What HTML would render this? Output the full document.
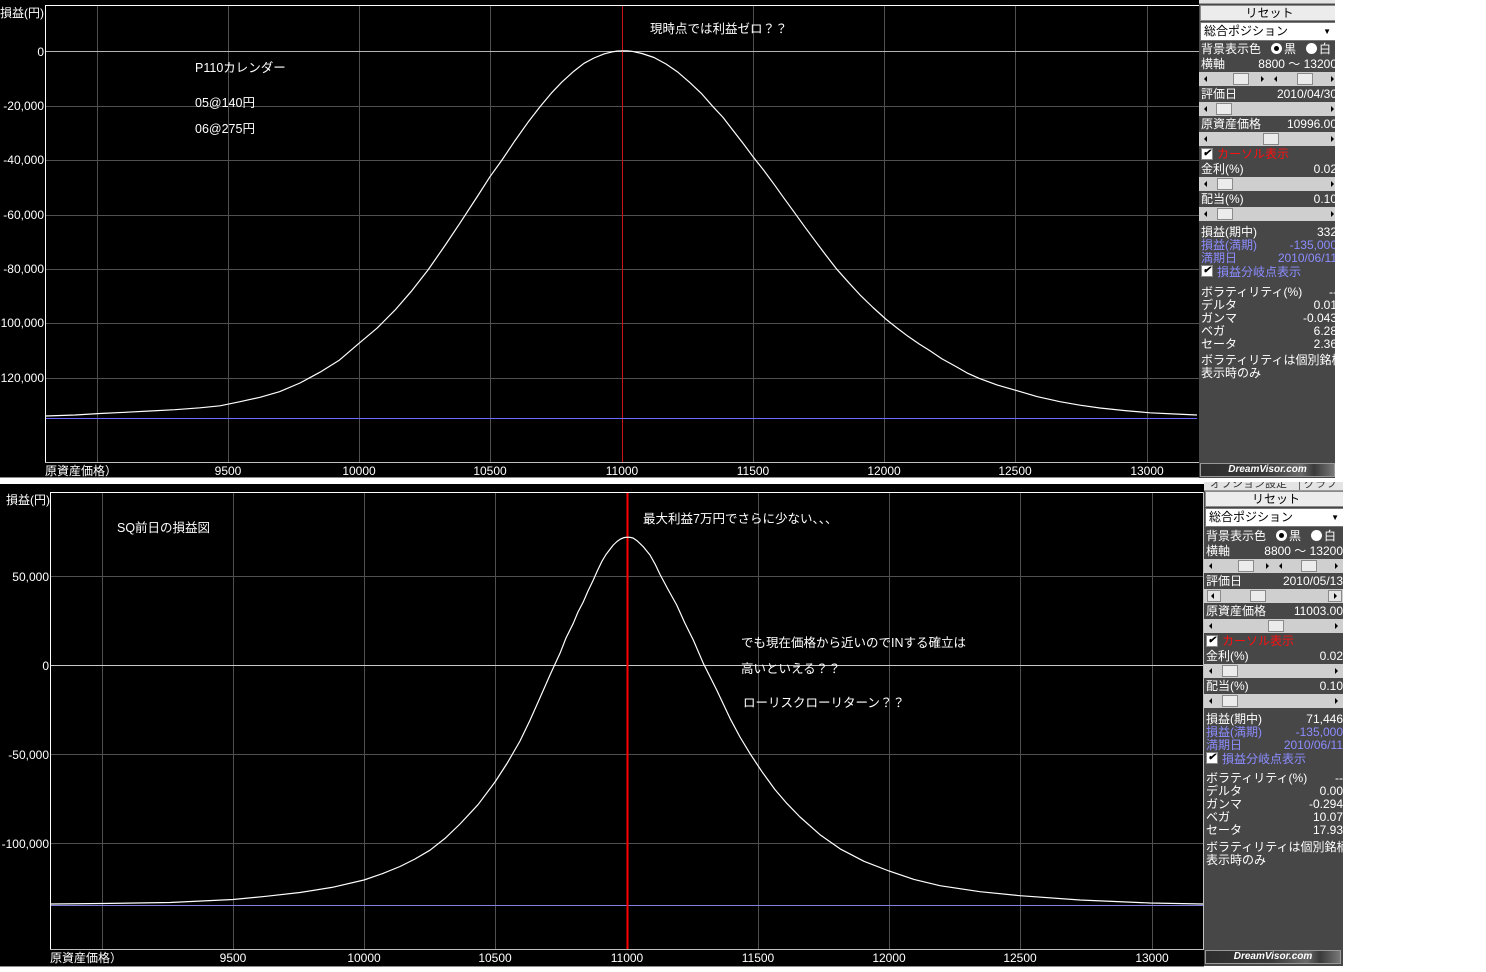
<!DOCTYPE html>
<html><head><meta charset="utf-8">
<style>
*{margin:0;padding:0;box-sizing:border-box}
html,body{width:1486px;height:972px;background:#fff;overflow:hidden}
#root{position:relative;width:1486px;height:972px;background:#fff;overflow:hidden}
.p{position:absolute;background:#474747;overflow:hidden;font:12px "Liberation Sans","Noto Sans CJK JP",sans-serif;color:#fff}
.r{position:absolute;left:0;right:0;height:15px;line-height:15px;white-space:nowrap}
.l{position:absolute;left:2px;top:0}
.v{position:absolute;right:-2px;top:0}
.pu{color:#8c8cff}
.sb{position:absolute;left:0;right:0;height:14px;background:#cfcfcf}
.th{position:absolute;top:1px;width:16px;height:12px;background:#ececec;border:1px solid #8a8a8a}
.tl{position:absolute;top:4px;width:0;height:0;border-top:3px solid transparent;border-bottom:3px solid transparent;border-right:3px solid #000}
.tr{position:absolute;top:4px;width:0;height:0;border-top:3px solid transparent;border-bottom:3px solid transparent;border-left:3px solid #000}
.bx{position:absolute;top:1px;width:14px;height:12px;background:#e4e4e4;border:1px solid #8a8a8a}
.btn{position:absolute;left:1px;right:-4px;height:16px;background:#ececec;border:1px solid #8a8a8a;color:#000;text-align:center;line-height:14px}
.dd{position:absolute;left:1px;right:-4px;height:19px;background:#fff;border:1px solid #777;color:#000;line-height:17px;padding-left:3px}
.dd b{position:absolute;right:7px;top:0;font-size:8px;font-weight:normal}
.ck{position:absolute;left:0;top:1px;width:12px;height:12px;background:#fff;border:1px solid #888;color:#000;font-size:10px;line-height:10px;text-align:center;font-weight:bold}
.ckt{position:absolute;left:16px;top:0}
.rd{display:inline-block;width:11px;height:11px;border-radius:50%;background:#fff;vertical-align:-1px;position:relative;margin-right:2px}
.rd.on:after{content:"";position:absolute;left:3px;top:3px;width:5px;height:5px;border-radius:50%;background:#000}
.ban{position:absolute;left:1px;right:0;height:14px;background:linear-gradient(90deg,#2e2e2e 0%,#3a3a3a 50%,#6a6a6a 75%,#3a3a3a 85%,#777 100%);border:1px solid #999;color:#fff;font:italic bold 10px "Liberation Sans",sans-serif;line-height:12px;text-align:center}
.tab{position:absolute;left:0;right:0;top:0;background:#e4e4e4;overflow:hidden;color:#333}
</style></head><body><div id="root">
<svg width="1486" height="972" style="position:absolute;left:0;top:0" font-family='"Liberation Sans","Noto Sans CJK JP",sans-serif' font-size="12">
<!-- top chart -->
<rect x="0" y="0" width="1199" height="477" fill="#000"/>
<rect x="0" y="477" width="1199" height="1" fill="#8a8a8a"/>
<g stroke="#505050" stroke-width="1" shape-rendering="crispEdges" fill="none">
<path d="M45 106.5H1199M45 160.5H1199M45 215.5H1199M45 269.5H1199M45 323.5H1199M45 378.5H1199"/>
<path d="M97.5 5V462M228.5 5V462M359.5 5V462M490.5 5V462M753.5 5V462M884.5 5V462M1015.5 5V462M1147.5 5V462"/>
</g>
<g shape-rendering="crispEdges" fill="none">
<path d="M45 51.5H1199" stroke="#b4b4b4"/>
<path d="M622.5 6V462" stroke="#c81414"/>
<path d="M45 5.5H1199" stroke="#fff"/>
<path d="M45.5 5V462" stroke="#fff"/>
<path d="M45 462.5H1199" stroke="#c0c0c0"/>
<path d="M46 418.5H1197" stroke="#6a6aff"/>
</g>
<polyline fill="none" stroke="#fff" stroke-width="1.2" stroke-linejoin="round" points="46,416 75,415 100,413.5 125,412.3 150,411 175,409.7 200,407.8 220,405.8 240,401.7 260,397.3 279.5,391.7 300,383 320,372.2 339,360.4 359,343.3 377,328.2 395,310.1 411,291.7 428,270 445,245.5 460,223.1 477,197 490,176.7 502,160 515,140.6 528,122.3 540,106.7 552,92.4 562,81.9 574,71.1 584,63.3 594,58 604,53.9 612,51.9 617,51.1 622,50.8 627,50.9 632,51.3 642,53.5 654,57.5 666,64 678,72.3 690,82.7 702,94.1 713,106.7 723,117.4 733,130.4 743,143.3 753,156.7 764,170.6 774,184.2 784,198.2 795,213.3 805,227.2 815,240.7 825,254 836,268.3 848,281.8 860,294.9 873,307.5 885.7,319 897,328 908,336.3 919,343.9 929.6,350.5 942,358.9 955,366 967,372.9 979,378.3 997,384.9 1015.7,390.3 1037,396.6 1060,401.7 1080,405.2 1100,408 1125,410.6 1150,412.8 1175,414 1197,415"/>
<g fill="#fff">
<text x="0" y="17">損益(円)</text>
<g text-anchor="end">
<text x="44" y="56">0</text>
<text x="44" y="110">-20,000</text>
<text x="44" y="164">-40,000</text>
<text x="44" y="219">-60,000</text>
<text x="44" y="273">-80,000</text>
<text x="44" y="327">-100,000</text>
<text x="44" y="382">-120,000</text>
</g>
<text x="45" y="475">原資産価格）</text>
<g text-anchor="middle">
<text x="228" y="475">9500</text>
<text x="359" y="475">10000</text>
<text x="490" y="475">10500</text>
<text x="622" y="475">11000</text>
<text x="753" y="475">11500</text>
<text x="884" y="475">12000</text>
<text x="1015" y="475">12500</text>
<text x="1147" y="475">13000</text>
</g>
<text x="650" y="33" font-size="12.5">現時点では利益ゼロ？？</text>
<text x="195" y="72" font-size="12.5">P110カレンダー</text>
<text x="195" y="107" font-size="12.5">05@140円</text>
<text x="195" y="133" font-size="12.5">06@275円</text>
</g>

<!-- bottom chart -->
<rect x="0" y="484" width="1204" height="482" fill="#000"/>
<rect x="0" y="966" width="1204" height="1" fill="#8a8a8a"/>
<g stroke="#505050" stroke-width="1" shape-rendering="crispEdges" fill="none">
<path d="M50 576.5H1203M50 754.5H1203M50 843.5H1203"/>
<path d="M102.5 493V949M233.5 493V949M364.5 493V949M495.5 493V949M758.5 493V949M889.5 493V949M1020.5 493V949M1152.5 493V949"/>
</g>
<g shape-rendering="crispEdges" fill="none">
<path d="M50 665.5H1203" stroke="#c8c8c8"/>
<path d="M50 492.5H1204" stroke="#fff"/>
<path d="M50.5 492V949" stroke="#fff"/>
<path d="M50 949.5H1204" stroke="#c0c0c0"/>
<path d="M1203.5 492V950" stroke="#c0c0c0"/>
<path d="M51 905.5H1203" stroke="#8080e0"/>
<path d="M627.5 493V949" stroke="#ff0000" stroke-width="2"/>
</g>
<polyline fill="none" stroke="#fff" stroke-width="1.2" stroke-linejoin="round" points="51,904 102,903.5 170,902.5 233,899.5 266,896.3 300,892.5 332,887.4 364,880 382,873.8 400,866.5 415,859 430,850.2 445,838.4 460,824 478,804.7 495,782 507,763.5 520,741 530,720.3 540,697.7 550,675 560,653.3 566,638 573.3,623.3 578,612 583,602.5 588,591 593.3,580 597.5,570.5 601.7,561.7 606,554.5 613.3,545 617,541.5 620,539.3 624,537.6 627,537.2 630,537.3 633,538 637,540.7 643,546.4 650,555 655,563.9 660,574.4 668,589.4 676.7,605 685,623.4 693.3,640 703.3,663.3 716.7,690 730,718.3 740,737 750,753.6 762,771.7 775,789.6 787,803.6 800,817 820,834.7 840,848.8 864,861.3 889,871 914,879.4 940,885.7 980,891.7 1020,895.7 1080,900 1150,903 1203,904"/>
<g fill="#fff">
<text x="6" y="504">損益(円)</text>
<g text-anchor="end">
<text x="49" y="581">50,000</text>
<text x="49" y="670">0</text>
<text x="49" y="759">-50,000</text>
<text x="49" y="848">-100,000</text>
</g>
<text x="50" y="962">原資産価格）</text>
<g text-anchor="middle">
<text x="233" y="962">9500</text>
<text x="364" y="962">10000</text>
<text x="495" y="962">10500</text>
<text x="627" y="962">11000</text>
<text x="758" y="962">11500</text>
<text x="889" y="962">12000</text>
<text x="1020" y="962">12500</text>
<text x="1152" y="962">13000</text>
</g>
<text x="117" y="532" font-size="12.5">SQ前日の損益図</text>
<text x="643" y="523" font-size="12.5">最大利益7万円でさらに少ない、、、</text>
<text x="741" y="647" font-size="12.5">でも現在価格から近いのでINする確立は</text>
<text x="741" y="673" font-size="12.5">高いといえる？？</text>
<text x="743" y="707" font-size="12.5">ローリスクローリターン？？</text>
</g>
</svg>

<!-- right panel 1 -->
<div class="p" style="left:1199px;top:0;width:136px;height:478px">
 <div class="tab" style="height:4px;border-bottom:1px solid #999"></div>
 <div class="btn" style="top:5px">リセット</div>
 <div class="dd" style="top:22px">総合ポジション<b>▼</b></div>
 <div class="r" style="top:42px"><span class="l">背景表示色</span><span style="position:absolute;left:72px"><i class="rd on"></i>黒</span><span style="position:absolute;left:107px"><i class="rd"></i>白</span></div>
 <div class="r" style="top:57px"><span class="l">横軸</span><span class="v">8800 ～ 13200</span></div>
 <div class="sb" style="top:72px"><i class="tl" style="left:5px"></i><i class="th" style="left:34px"></i><i class="tr" style="left:62px"></i><i class="tl" style="left:75px"></i><i class="th" style="left:98px"></i><i class="tr" style="left:132px"></i></div>
 <div class="r" style="top:87px"><span class="l">評価日</span><span class="v">2010/04/30</span></div>
 <div class="sb" style="top:102px"><i class="tl" style="left:5px"></i><i class="th" style="left:17px"></i><i class="tr" style="left:132px"></i></div>
 <div class="r" style="top:117px"><span class="l">原資産価格</span><span class="v">10996.00</span></div>
 <div class="sb" style="top:132px"><i class="tl" style="left:5px"></i><i class="th" style="left:64px"></i><i class="tr" style="left:132px"></i></div>
 <div class="r" style="top:147px"><span class="l" style="width:120px"><i class="ck">✔</i><span class="ckt" style="color:#ff1010">カーソル表示</span></span></div>
 <div class="r" style="top:162px"><span class="l">金利(%)</span><span class="v">0.02</span></div>
 <div class="sb" style="top:177px"><i class="tl" style="left:5px"></i><i class="th" style="left:18px"></i><i class="tr" style="left:132px"></i></div>
 <div class="r" style="top:192px"><span class="l">配当(%)</span><span class="v">0.10</span></div>
 <div class="sb" style="top:207px"><i class="tl" style="left:5px"></i><i class="th" style="left:18px"></i><i class="tr" style="left:132px"></i></div>
 <div class="r" style="top:225px;height:14px;line-height:14px"><span class="l">損益(期中)</span><span class="v">332</span></div>
 <div class="r pu" style="top:239px;height:13px;line-height:13px"><span class="l">損益(満期)</span><span class="v">-135,000</span></div>
 <div class="r pu" style="top:252px;height:13px;line-height:13px"><span class="l">満期日</span><span class="v">2010/06/11</span></div>
 <div class="r pu" style="top:265px;height:14px;line-height:14px"><span class="l" style="width:130px"><i class="ck" style="top:0">✔</i><span class="ckt">損益分岐点表示</span></span></div>
 <div class="r" style="top:286px;height:13px;line-height:13px"><span class="l">ボラティリティ(%)</span><span class="v">--</span></div>
 <div class="r" style="top:299px;height:13px;line-height:13px"><span class="l">デルタ</span><span class="v">0.01</span></div>
 <div class="r" style="top:312px;height:13px;line-height:13px"><span class="l">ガンマ</span><span class="v">-0.043</span></div>
 <div class="r" style="top:325px;height:13px;line-height:13px"><span class="l">ベガ</span><span class="v">6.28</span></div>
 <div class="r" style="top:338px;height:13px;line-height:13px"><span class="l">セータ</span><span class="v">2.36</span></div>
 <div class="r" style="top:354px;height:13px;line-height:13px"><span class="l">ボラティリティは個別銘柄</span></div>
 <div class="r" style="top:367px;height:13px;line-height:13px"><span class="l">表示時のみ</span></div>
 <div class="ban" style="top:463px">DreamVisor.com</div>
</div>

<!-- right panel 2 -->
<div class="p" style="left:1204px;top:482px;width:139px;height:484px">
 <div class="tab" style="height:9px;border-bottom:1px solid #999"><span style="position:absolute;left:6px;top:-7px;font-size:11px">オプション設定</span><span style="position:absolute;left:95px;top:-7px;font-size:11px;border-left:1px solid #666;padding-left:4px">グラフ</span></div>
 <div class="btn" style="top:9px">リセット</div>
 <div class="dd" style="top:26px">総合ポジション<b>▼</b></div>
 <div class="r" style="top:47px"><span class="l">背景表示色</span><span style="position:absolute;left:72px"><i class="rd on"></i>黒</span><span style="position:absolute;left:107px"><i class="rd"></i>白</span></div>
 <div class="r" style="top:62px"><span class="l">横軸</span><span class="v" style="right:0">8800 ～ 13200</span></div>
 <div class="sb" style="top:77px"><i class="tl" style="left:5px"></i><i class="th" style="left:34px"></i><i class="tr" style="left:62px"></i><i class="tl" style="left:75px"></i><i class="th" style="left:97px"></i><i class="tr" style="left:131px"></i></div>
 <div class="r" style="top:92px"><span class="l">評価日</span><span class="v" style="right:0">2010/05/13</span></div>
 <div class="sb" style="top:107px"><i class="bx" style="left:3px"></i><i class="tl" style="left:7px"></i><i class="th" style="left:46px"></i><i class="bx" style="left:124px"></i><i class="tr" style="left:130px"></i></div>
 <div class="r" style="top:122px"><span class="l">原資産価格</span><span class="v" style="right:0">11003.00</span></div>
 <div class="sb" style="top:137px"><i class="tl" style="left:5px"></i><i class="th" style="left:64px"></i><i class="tr" style="left:131px"></i></div>
 <div class="r" style="top:152px"><span class="l" style="width:120px"><i class="ck">✔</i><span class="ckt" style="color:#ff1010">カーソル表示</span></span></div>
 <div class="r" style="top:167px"><span class="l">金利(%)</span><span class="v" style="right:0">0.02</span></div>
 <div class="sb" style="top:182px"><i class="tl" style="left:5px"></i><i class="th" style="left:18px"></i><i class="tr" style="left:131px"></i></div>
 <div class="r" style="top:197px"><span class="l">配当(%)</span><span class="v" style="right:0">0.10</span></div>
 <div class="sb" style="top:212px"><i class="tl" style="left:5px"></i><i class="th" style="left:18px"></i><i class="tr" style="left:131px"></i></div>
 <div class="r" style="top:230px;height:14px;line-height:14px"><span class="l">損益(期中)</span><span class="v" style="right:0">71,446</span></div>
 <div class="r pu" style="top:244px;height:13px;line-height:13px"><span class="l">損益(満期)</span><span class="v" style="right:0">-135,000</span></div>
 <div class="r pu" style="top:257px;height:13px;line-height:13px"><span class="l">満期日</span><span class="v" style="right:0">2010/06/11</span></div>
 <div class="r pu" style="top:270px;height:14px;line-height:14px"><span class="l" style="width:130px"><i class="ck" style="top:0">✔</i><span class="ckt">損益分岐点表示</span></span></div>
 <div class="r" style="top:290px;height:13px;line-height:13px"><span class="l">ボラティリティ(%)</span><span class="v" style="right:0">--</span></div>
 <div class="r" style="top:303px;height:13px;line-height:13px"><span class="l">デルタ</span><span class="v" style="right:0">0.00</span></div>
 <div class="r" style="top:316px;height:13px;line-height:13px"><span class="l">ガンマ</span><span class="v" style="right:0">-0.294</span></div>
 <div class="r" style="top:329px;height:13px;line-height:13px"><span class="l">ベガ</span><span class="v" style="right:0">10.07</span></div>
 <div class="r" style="top:342px;height:13px;line-height:13px"><span class="l">セータ</span><span class="v" style="right:0">17.93</span></div>
 <div class="r" style="top:359px;height:13px;line-height:13px"><span class="l">ボラティリティは個別銘柄</span></div>
 <div class="r" style="top:372px;height:13px;line-height:13px"><span class="l">表示時のみ</span></div>
 <div class="ban" style="top:468px;right:2px">DreamVisor.com</div>
</div>
</div></body></html>
